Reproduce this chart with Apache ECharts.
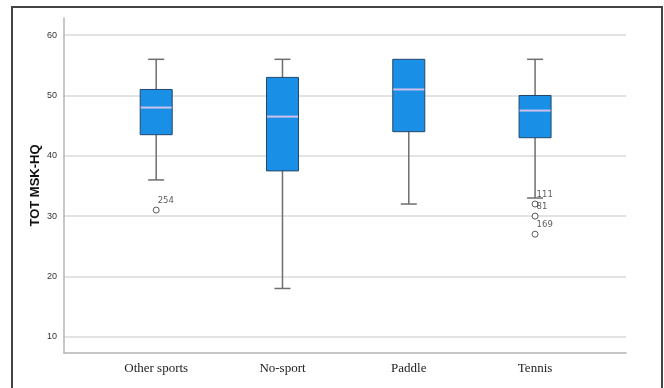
<!DOCTYPE html>
<html>
<head>
<meta charset="utf-8">
<script src="https://cdn.jsdelivr.net/npm/echarts@6/dist/echarts.min.js"></script>
<style>
  html, body { margin: 0; padding: 0; background: #ffffff; }
  #chart { width: 664px; height: 388px; }
</style>
</head>
<body>
<div id="chart"></div>
<script>
// ---- data ----
var categories = ['Other sports', 'No-sport', 'Paddle', 'Tennis'];
var whiskerLow  = [36, 18, 32, 33];
var q1          = [43.5, 37.5, 44, 43];
var median      = [48, 46.5, 51, 47.5];
var q3          = [51, 53, 56, 50];
var whiskerHigh = [56, 56, 56, 56];
// outliers: category index, value, case label
var outlierCat   = [0, 3, 3, 3];
var outlierValue = [31, 32, 30, 27];
var outlierLabel = ['254', '111', '81', '169'];
var yTicks = [10, 20, 30, 40, 50, 60];

var boxData = categories.map(function (c, i) {
  return [i, whiskerLow[i], q1[i], median[i], q3[i], whiskerHigh[i]];
});
var outlierData = outlierCat.map(function (c, i) {
  return { value: [c, outlierValue[i]], name: outlierLabel[i] };
});

var chart = echarts.init(document.getElementById('chart'), null, { renderer: 'canvas' });

function renderBox(params, api) {
  var x = api.value(0);
  var lo = api.coord([x, api.value(1)]);
  var b1 = api.coord([x, api.value(2)]);
  var md = api.coord([x, api.value(3)]);
  var b3 = api.coord([x, api.value(4)]);
  var hi = api.coord([x, api.value(5)]);
  var cx = lo[0];
  var half = 16, cap = 8;
  var whiskerStyle = { stroke: '#6e6e6e', lineWidth: 1.5 };
  var children = [];
  children.push({ type: 'line', shape: { x1: cx, y1: lo[1], x2: cx, y2: b1[1] }, style: whiskerStyle });
  children.push({ type: 'line', shape: { x1: cx - cap, y1: lo[1], x2: cx + cap, y2: lo[1] }, style: whiskerStyle });
  if (api.value(5) > api.value(4)) {
    children.push({ type: 'line', shape: { x1: cx, y1: hi[1], x2: cx, y2: b3[1] }, style: whiskerStyle });
    children.push({ type: 'line', shape: { x1: cx - cap, y1: hi[1], x2: cx + cap, y2: hi[1] }, style: whiskerStyle });
  }
  children.push({
    type: 'rect',
    shape: { x: cx - half, y: b3[1], width: half * 2, height: b1[1] - b3[1] },
    style: { fill: '#1a8fe6', stroke: '#23476b', lineWidth: 1 }
  });
  children.push({
    type: 'line',
    shape: { x1: cx - half + 0.5, y1: md[1], x2: cx + half - 0.5, y2: md[1] },
    style: { stroke: '#cfc0ec', lineWidth: 2 }
  });
  return { type: 'group', children: children };
}

var option = {
  backgroundColor: '#ffffff',
  animation: false,
  grid: { left: 64, right: 38, top: 18, bottom: 35 },
  xAxis: {
    type: 'value',
    min: -0.73,
    max: 3.72,
    splitLine: { show: false },
    axisTick: { show: false },
    axisLine: { show: true, onZero: false, lineStyle: { color: '#b4b4b4', width: 1.5 } },
    axisLabel: {
      customValues: [0, 1, 2, 3],
      formatter: function (v) { return categories[Math.round(v)] || ''; },
      fontFamily: 'Liberation Serif',
      fontSize: 13,
      color: '#222',
      margin: 9
    }
  },
  yAxis: {
    type: 'value',
    min: 7.3,
    max: 62.85,
    name: 'TOT MSK-HQ',
    nameLocation: 'middle',
    nameGap: 22,
    nameMoveOverlap: false,
    nameTextStyle: { fontFamily: 'Liberation Sans', fontWeight: 'bold', fontSize: 13, color: '#111' },
    axisLine: { show: true, onZero: false, lineStyle: { color: '#b4b4b4', width: 1.5 } },
    axisTick: { show: false, customValues: yTicks },
    axisLabel: {
      customValues: yTicks,
      fontFamily: 'Liberation Sans',
      fontSize: 9,
      color: '#333',
      margin: 7
    },
    splitLine: { show: true, lineStyle: { color: '#dadada', width: 1.5 } }
  },
  graphic: [{
    type: 'polyline',
    shape: { points: [[12, 400], [12, 7], [662, 7], [662, 400]] },
    style: { stroke: '#444', lineWidth: 2, fill: null },
    silent: true
  }],
  series: [
    {
      type: 'custom',
      renderItem: renderBox,
      data: boxData,
      encode: { x: 0, y: [1, 2, 3, 4, 5] },
      z: 3
    },
    {
      type: 'scatter',
      data: outlierData,
      symbol: 'circle',
      symbolSize: 6,
      itemStyle: { color: '#ffffff', borderColor: '#333', borderWidth: 1 },
      label: {
        show: true,
        formatter: '{b}',
        position: [5, -6],
        align: 'left',
        verticalAlign: 'middle',
        fontFamily: 'DejaVu Sans',
        fontSize: 8.5,
        color: '#333'
      },
      z: 4
    }
  ]
};
chart.setOption(option);
</script>
</body>
</html>
